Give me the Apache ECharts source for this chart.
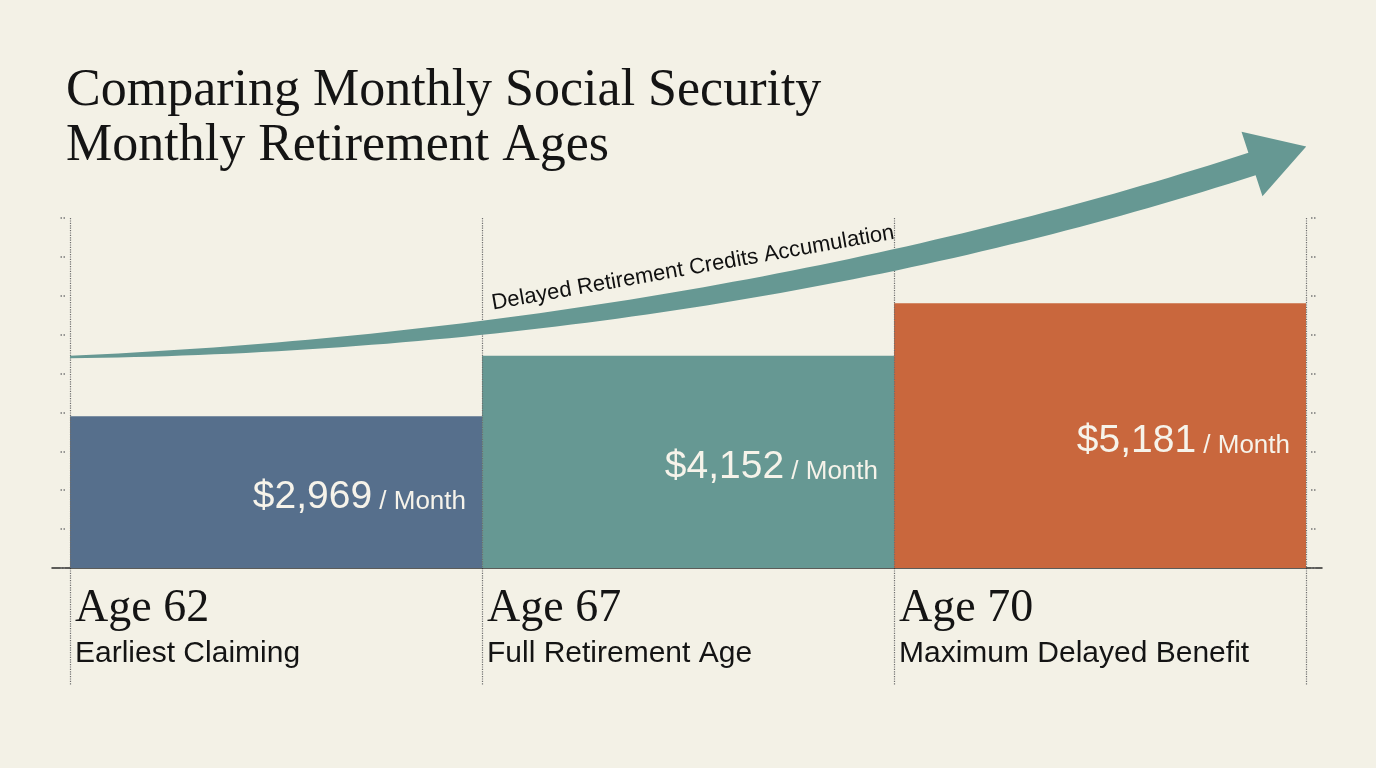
<!DOCTYPE html>
<html>
<head>
<meta charset="utf-8">
<script src="https://cdn.jsdelivr.net/npm/echarts@6/dist/echarts.min.js"></script>
<style>
  html, body { margin: 0; padding: 0; background: #f3f1e6; }
  #chart { width: 1376px; height: 768px; }
</style>
</head>
<body>
<div id="chart"></div>
<script>
// ---- data ----
const ages = ['Age 62', 'Age 67', 'Age 70'];
const descriptions = ['Earliest Claiming', 'Full Retirement Age', 'Maximum Delayed Benefit'];
const monthlyBenefit = [2969, 4152, 5181];
const barColors = ['#566f8c', '#669893', '#c9673d'];
const titleLines = ['Comparing Monthly Social Security', 'Monthly Retirement Ages'];
const arrowLabel = 'Delayed Retirement Credits Accumulation';

// ---- layout ----
const BG = '#f3f1e6';
const SANS = '"Liberation Sans", Arial, sans-serif';
const SERIF = '"Liberation Serif", "Times New Roman", serif';

const chart = echarts.init(document.getElementById('chart'));

// decorative growth arrow (tapered bezier shaft + head)
const ctrl = [[70, 357], [500, 345], [900, 278], [1252, 164]];
function bez(t) {
  const a = (1 - t) ** 3, b = 3 * (1 - t) ** 2 * t, c = 3 * (1 - t) * t * t, d = t ** 3;
  return [a * ctrl[0][0] + b * ctrl[1][0] + c * ctrl[2][0] + d * ctrl[3][0],
          a * ctrl[0][1] + b * ctrl[1][1] + c * ctrl[2][1] + d * ctrl[3][1]];
}
function der(t) {
  const a = 3 * (1 - t) ** 2, b = 6 * (1 - t) * t, c = 3 * t * t;
  return [a * (ctrl[1][0] - ctrl[0][0]) + b * (ctrl[2][0] - ctrl[1][0]) + c * (ctrl[3][0] - ctrl[2][0]),
          a * (ctrl[1][1] - ctrl[0][1]) + b * (ctrl[2][1] - ctrl[1][1]) + c * (ctrl[3][1] - ctrl[2][1])];
}
const upper = [], lower = [];
const N = 80;
let endN = null, endU = null;
for (let i = 0; i <= N; i++) {
  const t = i / N;
  const p = bez(t), d = der(t);
  const len = Math.hypot(d[0], d[1]);
  const u = [d[0] / len, d[1] / len];
  const n = [u[1], -u[0]];
  const half = (2.5 + 21 * (1 - (1 - t) ** 2)) / 2;
  upper.push([p[0] + n[0] * half, p[1] + n[1] * half]);
  lower.push([p[0] - n[0] * half, p[1] - n[1] * half]);
  if (i === N) { endN = n; endU = u; }
}
const P3 = ctrl[3];
const headHalf = 34, headLen = 57;
const arrowPts = upper.concat([
  [P3[0] + endN[0] * headHalf, P3[1] + endN[1] * headHalf],
  [P3[0] + endU[0] * headLen, P3[1] + endU[1] * headLen],
  [P3[0] - endN[0] * headHalf, P3[1] - endN[1] * headHalf]
]).concat(lower.slice().reverse());

const dotted = { color: '#6e6e6e', type: 'dotted', width: 1.2 };
const tickAxis = (pos) => ({
  type: 'value', gridIndex: 0, min: 0, max: 9, interval: 1, position: pos, offset: 5,
  axisLine: { show: false }, axisLabel: { show: false }, splitLine: { show: false },
  axisTick: { show: true, length: 6, lineStyle: { color: '#777', type: 'dotted', width: 1.5 } }
});

const option = {
  backgroundColor: BG,
  animation: false,
  title: {
    text: titleLines.join('\n'),
    left: 66,
    top: 64,
    padding: 0,
    textStyle: { fontFamily: SERIF, fontSize: 52, lineHeight: 55, fontWeight: 'normal', color: '#141414' }
  },
  grid: [
    { left: 70, right: 70, top: 218, height: 350 },
    { left: 70, right: 70, top: 568, height: 117 },
    { left: 52, right: 54, top: 218, height: 350 }
  ],
  xAxis: [
    {
      type: 'category', gridIndex: 0, data: ages, z: 5,
      axisLine: { show: false }, axisTick: { show: false },
      splitLine: { show: true, interval: 0, lineStyle: dotted },
      axisLabel: {
        interval: 0, margin: 16,
        formatter: function (v, i) { return '{a|' + v + '}\n{b|' + descriptions[i] + '}'; },
        rich: {
          a: { fontFamily: SERIF, fontSize: 46, lineHeight: 50, color: '#141414', width: 402, align: 'left' },
          b: { fontFamily: SANS, fontSize: 30, lineHeight: 40, color: '#141414', width: 402, align: 'left' }
        }
      }
    },
    {
      type: 'category', gridIndex: 1, data: ages,
      axisLine: { show: false }, axisTick: { show: false }, axisLabel: { show: false },
      splitLine: { show: true, interval: 0, lineStyle: dotted }
    },
    {
      type: 'value', gridIndex: 2, min: 0, max: 1,
      axisLine: { show: true, lineStyle: { color: '#2b2b2b', width: 1.5 } },
      axisTick: { show: false }, axisLabel: { show: false }, splitLine: { show: false }
    }
  ],
  yAxis: [
    { type: 'value', gridIndex: 0, min: 0, max: 6850, show: false },
    tickAxis('left'),
    tickAxis('right'),
    { type: 'value', gridIndex: 1, show: false },
    { type: 'value', gridIndex: 2, min: 0, max: 1, show: false }
  ],
  series: [
    {
      type: 'bar',
      xAxisIndex: 0, yAxisIndex: 0,
      barCategoryGap: 0,
      data: monthlyBenefit.map((v, i) => ({ value: v, itemStyle: { color: barColors[i] } })),
      label: {
        show: true,
        position: 'insideRight',
        distance: 16,
        offset: [0, 3],
        formatter: function (p) {
          return '{v|$' + p.value.toLocaleString('en-US') + '}{u| / Month}';
        },
        rich: {
          v: { fontFamily: SANS, fontSize: 39, color: '#f6f3ea', verticalAlign: 'bottom', lineHeight: 44 },
          u: { fontFamily: SANS, fontSize: 26, color: '#f6f3ea', verticalAlign: 'bottom', lineHeight: 44, padding: [0, 0, 2, 0] }
        }
      }
    }
  ],
  graphic: [
    {
      type: 'polygon',
      shape: { points: arrowPts },
      style: { fill: '#669893' },
      z: 10
    },
    {
      type: 'text',
      x: 693, y: 268,
      rotation: 0.1745,
      style: {
        text: arrowLabel,
        fontFamily: SANS, fontSize: 22, fill: '#111',
        align: 'center', verticalAlign: 'middle'
      },
      z: 11
    }
  ]
};

chart.setOption(option);
</script>
</body>
</html>
